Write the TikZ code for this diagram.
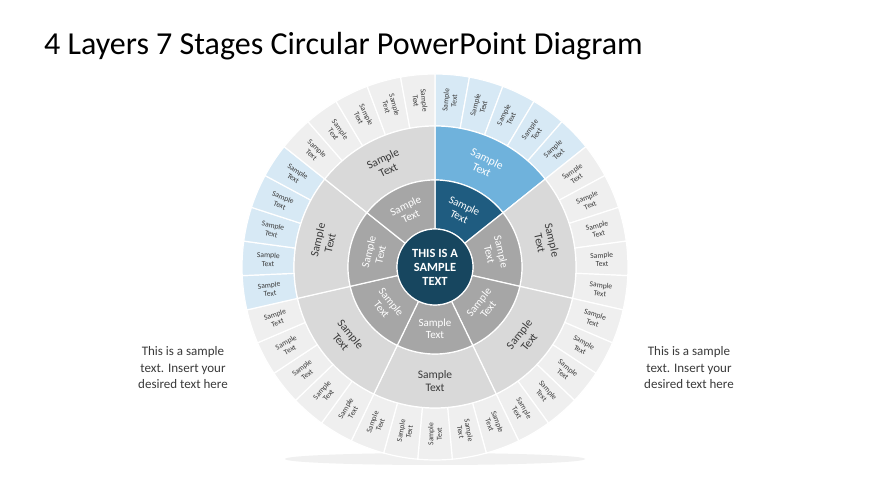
\documentclass[tikz,border=0pt]{standalone}
\usepackage{fontspec}
\setmainfont{Carlito}
\definecolor{navy}{HTML}{17465F}
\definecolor{midgrey}{HTML}{A6A6A6}
\definecolor{lightgrey}{HTML}{D9D9D9}
\definecolor{outergrey}{HTML}{EFEFEF}
\definecolor{hldark}{HTML}{1F5C80}
\definecolor{hlmid}{HTML}{6FB2DC}
\definecolor{hllight}{HTML}{D7E9F5}
\definecolor{txt}{HTML}{3A3A3A}
\tikzset{
  sep/.style={draw=white,line width=1.2pt},
  celltxt/.style={font=\fontsize{7.6}{8.4}\selectfont,text=txt,align=center,inner sep=0pt},
  r3txt/.style={font=\fontsize{11.5}{12.5}\selectfont,text=txt,align=center,inner sep=0pt},
  r2txt/.style={font=\fontsize{11}{12}\selectfont,text=white,align=center,inner sep=0pt},
}
\begin{document}
\begin{tikzpicture}[x=1pt,y=1pt]
\useasboundingbox (0,0) rectangle (870,489);
\fill[white] (0,0) rectangle (870,489);
\node[anchor=west,font=\fontsize{32}{36}\selectfont,inner sep=0pt] (title) at (44,443) {4 Layers 7 Stages Circular PowerPoint Diagram};
% shadow
\fill[black!6] (435,30) ellipse (150 and 6);
\begin{scope}[shift={(435,222)}]
\foreach \j in {0,...,34}{
  \pgfmathsetmacro{\aa}{90-10.285714*\j}
  \pgfmathsetmacro{\ab}{90-10.285714*(\j+1)}
  \pgfmathtruncatemacro{\sec}{floor(\j/5)}
  \ifnum\sec=0 \def\cc{hllight}\else\ifnum\sec=5 \def\cc{hllight}\else\def\cc{outergrey}\fi\fi
  \path[fill=\cc,sep] (\aa:193) arc[start angle=\aa,end angle=\ab,radius=193] -- (\ab:141) arc[start angle=\ab,end angle=\aa,radius=141] -- cycle;
  \pgfmathsetmacro{\m}{90-10.285714*(\j+0.5)}
  \pgfmathsetmacro{\mm}{\m<-180?\m+360:\m}
  \pgfmathsetmacro{\rot}{\mm>90?\mm-180:(\mm<-90?\mm+180:\mm)}
  \node[celltxt,rotate=\rot] (c\j) at (\mm:167) {Sample\\Text};
}
\foreach \k in {0,...,6}{
  \pgfmathsetmacro{\aa}{90-51.428571*\k}
  \pgfmathsetmacro{\ab}{90-51.428571*(\k+1)}
  \ifnum\k=0 \def\cc{hlmid}\def\cd{hldark}\else\def\cc{lightgrey}\def\cd{midgrey}\fi
  \path[fill=\cc,sep] (\aa:141) arc[start angle=\aa,end angle=\ab,radius=141] -- (\ab:87) arc[start angle=\ab,end angle=\aa,radius=87] -- cycle;
  \path[fill=\cd,sep] (\aa:87) arc[start angle=\aa,end angle=\ab,radius=87] -- (\ab:38) arc[start angle=\ab,end angle=\aa,radius=38] -- cycle;
  \pgfmathsetmacro{\m}{90-51.428571*(\k+0.5)}
  \pgfmathsetmacro{\mm}{\m<-180?\m+360:\m}
  \pgfmathsetmacro{\rot}{\mm>0?\mm-90:\mm+90}
  \ifnum\k=0
    \node[r3txt,text=white,rotate=\rot] (o\k) at (\mm:114) {Sample\\Text};
  \else
    \node[r3txt,rotate=\rot] (o\k) at (\mm:114) {Sample\\Text};
  \fi
  \node[r2txt,rotate=\rot] (i\k) at (\mm:62) {Sample\\Text};
}
\node[circle,fill=navy,draw=white,line width=1.2pt,minimum size=76pt,inner sep=0pt,text=white,align=center,font=\fontsize{12.5}{14}\selectfont\bfseries] (center) at (0,0) {THIS IS A\\SAMPLE\\TEXT};
\end{scope}
\node[align=center,font=\fontsize{13}{16.5}\selectfont,text=txt] (lt) at (183,121) {This is a sample\\text. Insert your\\desired text here};
\node[align=center,font=\fontsize{13}{16.5}\selectfont,text=txt] (rt) at (689,121) {This is a sample\\text. Insert your\\desired text here};
\end{tikzpicture}
\end{document}
